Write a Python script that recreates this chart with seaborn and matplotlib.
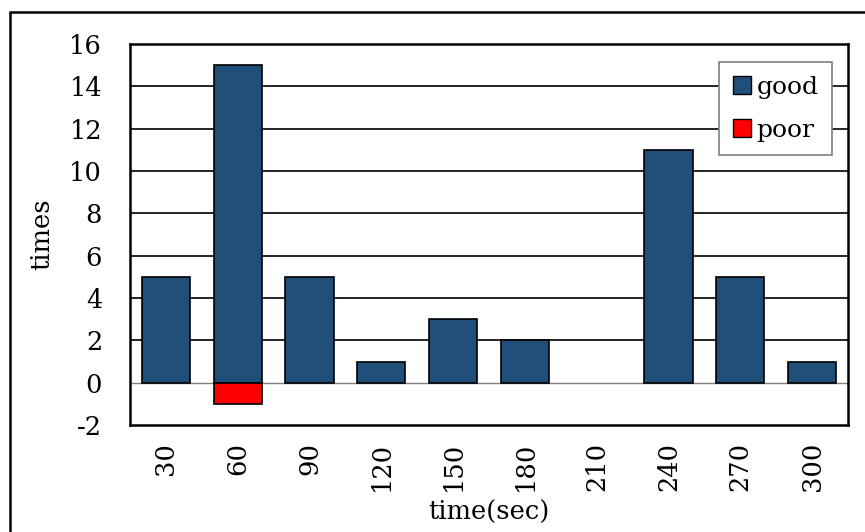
import matplotlib
matplotlib.use("Agg")
import matplotlib.pyplot as plt
import seaborn as sns
import pandas as pd
from matplotlib.patches import Patch
from matplotlib.lines import Line2D

categories = ["30", "60", "90", "120", "150", "180", "210", "240", "270", "300"]
good = [5, 15, 5, 1, 3, 2, 0, 11, 5, 1]
poor = [0, -1, 0, 0, 0, 0, 0, 0, 0, 0]
yticks = [-2, 0, 2, 4, 6, 8, 10, 12, 14, 16]

sns.set_theme(style="white")
plt.rcParams['font.family'] = ['DejaVu Serif']
plt.rcParams['text.color'] = 'black'
plt.rcParams['axes.labelcolor'] = 'black'
plt.rcParams['xtick.color'] = 'black'
plt.rcParams['ytick.color'] = 'black'

df = pd.DataFrame({"time": categories, "good": good, "poor": poor})

W, H = 865, 532
fig = plt.figure(figsize=(W/100, H/100), dpi=100)
ax = fig.add_axes([130/W, 1-425/H, (848-130)/W, (425-44)/H])

sns.barplot(data=df, x="time", y="good", order=categories, color="#1F4E79",
            saturation=1, width=0.67, edgecolor="black", linewidth=1.2, ax=ax, zorder=3)
sns.barplot(data=df, x="time", y="poor", order=categories, color="#FF0000",
            saturation=1, width=0.67, edgecolor="black", linewidth=1.2, ax=ax, zorder=3)
for p in ax.patches:
    if p.get_height() == 0:
        p.set_visible(False)

ax.set_ylim(-2, 16)
ax.set_yticks(yticks)
ax.set_yticklabels([str(v) for v in yticks])
ax.set_xlim(-0.5, len(categories) - 0.5)
for v in yticks[2:]:
    ax.axhline(v, color="black", linewidth=1.2, zorder=1)
ax.axhline(0, color="#808080", linewidth=1.0, zorder=1)

for s in ax.spines.values():
    s.set_visible(True)
    s.set_color("black")
    s.set_linewidth(1.8)

ax.tick_params(axis="y", labelsize=18.5, length=0, pad=20)
ax.tick_params(axis="x", labelsize=18.5, length=0, pad=12, labelrotation=90)
ax.set_xlabel("time(sec)", fontsize=18.5)
ax.xaxis.set_label_coords(0.5, (425-500)/381)
ax.set_ylabel("times", fontsize=18.5)
ax.yaxis.set_label_coords((54-130)/718, 0.5)

handles = [Patch(facecolor="#1F4E79", edgecolor="black", label="good"),
           Patch(facecolor="#FF0000", edgecolor="black", label="poor")]
leg = ax.legend(handles=handles, loc="upper right", bbox_to_anchor=(0.978, 0.953),
                fontsize=18, frameon=True, fancybox=False, handlelength=0.75,
                handleheight=0.75, handletextpad=0.2, labelspacing=0.8,
                borderpad=0.55, borderaxespad=0)
leg.get_frame().set_edgecolor("#808080")
leg.get_frame().set_linewidth(1.2)
leg.get_frame().set_facecolor("white")
leg.get_frame().set_alpha(1)
leg.set_zorder(5)

fig.add_artist(Line2D([10/W, 10/W], [0, 1-12/H], transform=fig.transFigure,
                      color="black", linewidth=1.8))
fig.add_artist(Line2D([10/W, 1], [1-12/H, 1-12/H], transform=fig.transFigure,
                      color="black", linewidth=1.8))

fig.savefig("out.png", dpi=100)
